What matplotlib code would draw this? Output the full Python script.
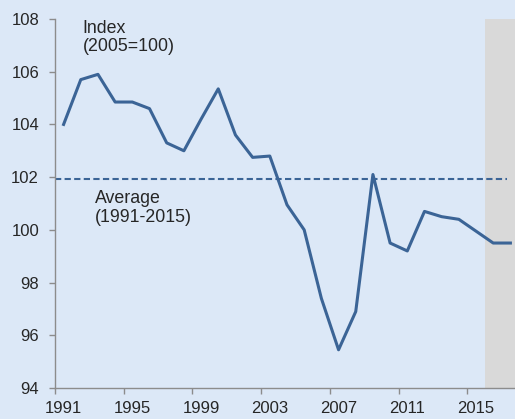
import numpy as np
import matplotlib
matplotlib.use('Agg')
import matplotlib.pyplot as plt

# Данные
years = list(range(1991, 2018))
index_values = [104.0, 105.7, 105.9, 104.85, 104.85, 104.6, 103.3, 103.0, 104.2, 105.35,
                103.6, 102.75, 102.8, 100.95, 100.0, 97.4, 95.45, 96.9, 102.1, 99.5,
                99.2, 100.7, 100.5, 100.4, 99.95, 99.5, 99.5]
average_value = 101.92
shade_years = [2016, 2017]
tick_years = [1991, 1995, 1999, 2003, 2007, 2011, 2015]

bg = '#dce8f7'
line_col = '#3b6496'
text_col = '#262626'

plt.rcParams['font.family'] = ['Liberation Sans', 'DejaVu Sans']

fig = plt.figure(figsize=(5.15, 4.19), dpi=100, facecolor=bg)
ax = fig.add_axes([55 / 515, 1 - 388 / 419, 464 / 515, 369 / 419], facecolor=bg)

x = np.arange(len(years))
first_shade = years.index(shade_years[0])
ax.axvspan(first_shade - 0.5, len(years) - 0.5, color='#d9d9d9', lw=0, zorder=0)

# пунктир среднего почти до правого края
ax.axhline(average_value, xmin=0, xmax=0.974, color=line_col, lw=1.5, dashes=(3.0, 1.6), zorder=2)
ax.plot(x, index_values, color=line_col, lw=2.2, zorder=3)

ax.set_xlim(-0.5, len(years) - 0.5)
ax.set_ylim(94, 108)
ax.set_yticks(np.arange(94, 109, 2))

# подписи по центру категорий, засечки по границам
ax.set_xticks([years.index(y) - 0.5 for y in tick_years])
ax.set_xticklabels([])
ax.set_xticks([years.index(y) for y in tick_years], minor=True)
ax.set_xticklabels([str(y) for y in tick_years], minor=True)
ax.tick_params(axis='x', which='minor', length=0, pad=9.5, labelsize=12, labelcolor=text_col)
ax.tick_params(axis='x', which='major', length=4, width=1, color='#8c8c8c')
ax.tick_params(axis='y', length=4, width=1, color='#8c8c8c', pad=7.5, labelsize=12, labelcolor=text_col)

for s in ['top', 'right']:
    ax.spines[s].set_visible(False)
for s in ['left', 'bottom']:
    ax.spines[s].set_color('#8c8c8c')
    ax.spines[s].set_linewidth(1)

ax.text(1.11, 107.98, 'Index\n(2005=100)', fontsize=12.8, color=text_col, va='top', ha='left', linespacing=1.15)
ax.text(1.83, 101.51, 'Average\n(1991-2015)', fontsize=12.8, color=text_col, va='top', ha='left', linespacing=1.15)

fig.savefig('out.png', dpi=100, facecolor=bg)
